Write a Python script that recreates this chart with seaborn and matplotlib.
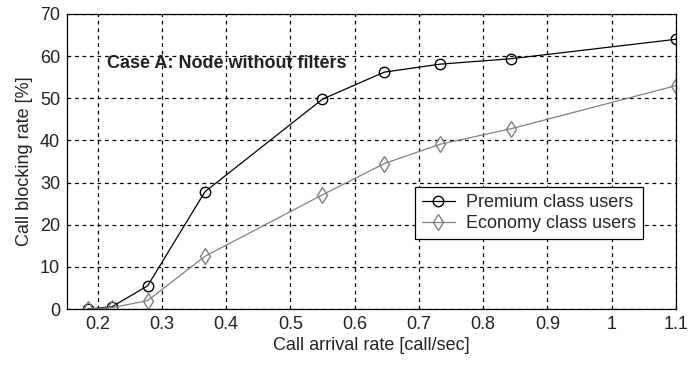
import matplotlib
matplotlib.use("Agg")
import matplotlib.pyplot as plt
import seaborn as sns
import pandas as pd

arrival_rate = [0.185, 0.222, 0.278, 0.367, 0.55, 0.646, 0.733, 0.844, 1.1]
premium = [0.0, 0.5, 5.5, 27.8, 49.8, 56.2, 58.1, 59.4, 64.0]
economy = [0.0, 0.3, 2.0, 12.5, 27.1, 34.5, 39.1, 42.8, 53.0]
x_ticks = [0.2, 0.3, 0.4, 0.5, 0.6, 0.7, 0.8, 0.9, 1.0, 1.1]
x_tick_labels = ["0.2", "0.3", "0.4", "0.5", "0.6", "0.7", "0.8", "0.9", "1", "1.1"]
y_ticks = [0, 10, 20, 30, 40, 50, 60, 70]

sns.set_style("white")
plt.rcParams['font.family'] = ['Liberation Sans', 'DejaVu Sans']

df = pd.DataFrame({"x": arrival_rate + arrival_rate,
                   "y": premium + economy,
                   "s": ["Premium class users"] * len(premium) + ["Economy class users"] * len(economy)})

fig = plt.figure(figsize=(6.9, 3.67), dpi=100)
ax = fig.add_axes([67/690, 1 - 309/367, (676-67)/690, (309-14)/367])

styles = {"Premium class users": ("black", "o", 7.5), "Economy class users": ("#808080", "d", 8)}
for name in ["Premium class users", "Economy class users"]:
    c, m, ms = styles[name]
    sub = df[df.s == name]
    sns.lineplot(data=sub, x="x", y="y", ax=ax, color=c, linewidth=0.9,
                 marker=m, markersize=ms, markerfacecolor="none",
                 markeredgecolor=c, markeredgewidth=1.0, label=name)

ax.set_xlim(0.1525, 1.1)
ax.set_ylim(0, 70)
ax.set_xticks(x_ticks)
ax.set_xticklabels(x_tick_labels)
ax.set_yticks(y_ticks)
ax.grid(True, color="black", linestyle=(0, (3, 3)), linewidth=0.9)
for sp in ax.spines.values():
    sp.set_color("black")
    sp.set_linewidth(0.9)
ax.tick_params(axis="both", labelsize=13, colors="#222222", length=0, pad=5)
ax.set_xlabel("Call arrival rate [call/sec]", fontsize=13, color="#222222", labelpad=3)
ax.set_ylabel("Call blocking rate [%]", fontsize=13, color="#222222", labelpad=5)

ax.text(0.2155, 58.2, "Case A: Node without filters", fontsize=13, fontweight="bold",
        va="center", ha="left", color="#222222")

leg = ax.legend(loc="upper left", bbox_to_anchor=((415-67)/609, 1 - (187-14)/295),
                frameon=True, fancybox=False, fontsize=13, borderpad=0.4,
                handlelength=1.8, handletextpad=0.6, labelspacing=0.2, borderaxespad=0)
leg.get_frame().set_edgecolor("black")
leg.get_frame().set_linewidth(0.9)
leg.get_frame().set_alpha(1)

fig.savefig("out.png", dpi=100, facecolor="white")
